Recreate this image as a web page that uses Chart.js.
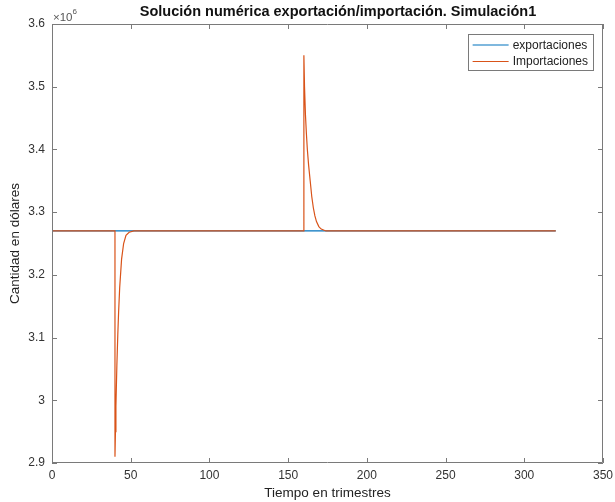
<!DOCTYPE html>
<html>
<head>
<meta charset="utf-8">
<script src="https://cdn.jsdelivr.net/npm/chart.js@4/dist/chart.umd.min.js"></script>
<style>
  html, body { margin: 0; padding: 0; background: #fff; }
  #wrap { width: 615px; height: 502px; }
</style>
</head>
<body>
<div id="wrap"><canvas id="grafica"></canvas></div>
<script>
// Datos (dólares)
const tExport = [0, 320];
const exportaciones = [3270000, 3270000];

const tImport = [0, 40, 40, 40.3, 40.6, 41.2, 41.8, 42.3, 43, 44.2, 45.5, 47, 49, 52,
  160, 160, 160.4, 161, 161.6, 162.2, 163, 164, 165, 166, 167, 168, 169.5, 171, 174, 320];
const importaciones = [3270000, 3270000, 2910000, 2950000, 2990000, 3055000, 3105000, 3140000,
  3180000, 3225000, 3250000, 3263000, 3268000, 3270000,
  3270000, 3550000, 3500000, 3455000, 3425000, 3400000, 3375000, 3350000, 3325000,
  3307000, 3294000, 3285000, 3277000, 3273000, 3270000, 3270000];

const xTicks = [0, 50, 100, 150, 200, 250, 300, 350];
const yTicks = [2900000, 3000000, 3100000, 3200000, 3300000, 3400000, 3500000, 3600000];

const titulo = "Solución numérica exportación/importación. Simulación1";
const FONT = "'Liberation Sans', Arial, Helvetica, sans-serif";

const toPoints = (xs, ys) => xs.map((x, i) => ({ x: x, y: ys[i] }));

// Caja, marcas hacia dentro, leyenda y multiplicador al estilo MATLAB
const estiloMatlab = {
  id: "estiloMatlab",
  afterDatasetsDraw(chart) {
    const { ctx, chartArea: a, scales } = chart;
    const x = scales.x, y = scales.y;
    ctx.save();
    ctx.strokeStyle = "#7a7a7a";
    ctx.lineWidth = 1;
    ctx.beginPath();
    ctx.rect(Math.round(a.left) + 0.5, Math.round(a.top) + 0.5,
      Math.round(a.width) - 1, Math.round(a.height) - 1);
    x.ticks.forEach((t) => {
      const px = Math.round(x.getPixelForValue(t.value)) + 0.5;
      ctx.moveTo(px, a.bottom); ctx.lineTo(px, a.bottom - 5);
      ctx.moveTo(px, a.top); ctx.lineTo(px, a.top + 5);
    });
    y.ticks.forEach((t) => {
      const py = Math.round(y.getPixelForValue(t.value)) + 0.5;
      ctx.moveTo(a.left, py); ctx.lineTo(a.left + 5, py);
      ctx.moveTo(a.right, py); ctx.lineTo(a.right - 5, py);
    });
    ctx.stroke();

    // multiplicador ×10^6
    ctx.fillStyle = "#555";
    ctx.textBaseline = "middle";
    ctx.textAlign = "left";
    ctx.font = "11.5px " + FONT;
    ctx.fillText("×10", a.left + 1, a.top - 6);
    const w = ctx.measureText("×10").width;
    ctx.font = "8px " + FONT;
    ctx.fillText("6", a.left + 1 + w, a.top - 12);

    // título
    ctx.fillStyle = "#111";
    ctx.textAlign = "center";
    ctx.font = "bold 14.5px " + FONT;
    ctx.fillText(titulo, 338, 12);

    // leyenda
    ctx.font = "12px " + FONT;
    const items = chart.data.datasets;
    const textW = Math.max(...items.map((d) => ctx.measureText(d.label).width));
    const bw = 5 + 36 + 4 + textW + 5;
    const bh = 36;
    const bx = a.right - 10 - bw;
    const by = a.top + 10;
    ctx.fillStyle = "#fff";
    ctx.fillRect(bx, by, bw, bh);
    ctx.strokeStyle = "#7a7a7a";
    ctx.strokeRect(Math.round(bx) + 0.5, by + 0.5, Math.round(bw), bh);
    ctx.textAlign = "left";
    items.forEach((d, i) => {
      const ly = by + 11 + i * 16.5;
      ctx.strokeStyle = d.borderColor;
      ctx.lineWidth = 1.2;
      ctx.beginPath();
      ctx.moveTo(bx + 5, ly); ctx.lineTo(bx + 41, ly);
      ctx.stroke();
      ctx.fillStyle = "#222";
      ctx.fillText(d.label, bx + 45, ly + 0.5);
    });
    ctx.restore();
  }
};

new Chart(document.getElementById("grafica"), {
  type: "line",
  data: {
    datasets: [
      {
        label: "exportaciones",
        data: toPoints(tExport, exportaciones),
        borderColor: "#0072BD",
        borderWidth: 1.2,
        pointRadius: 0,
        tension: 0,
        order: 1
      },
      {
        label: "Importaciones",
        data: toPoints(tImport, importaciones),
        borderColor: "#D95319",
        borderWidth: 1.2,
        pointRadius: 0,
        tension: 0,
        order: 0
      }
    ]
  },
  options: {
    responsive: true,
    maintainAspectRatio: false,
    animation: false,
    layout: { padding: { left: 0, right: 12, top: 24, bottom: 0 } },
    plugins: {
      legend: { display: false },
      title: { display: false },
      tooltip: { enabled: false }
    },
    scales: {
      x: {
        type: "linear",
        min: 0,
        max: 350,
        grid: { display: false, drawTicks: false },
        border: { display: false },
        afterBuildTicks: (s) => { s.ticks = xTicks.map((v) => ({ value: v })); },
        afterFit: (s) => { s.height = 39; s.paddingLeft = 0; s.paddingRight = 0; },
        ticks: {
          padding: 5,
          color: "#333",
          font: { family: FONT, size: 12 },
          maxRotation: 0
        },
        title: {
          display: true,
          text: "Tiempo en trimestres",
          color: "#222",
          font: { family: FONT, size: 13.5 },
          padding: { top: 0, bottom: 1 }
        }
      },
      y: {
        min: 2900000,
        max: 3600000,
        grid: { display: false, drawTicks: false },
        border: { display: false },
        afterBuildTicks: (s) => { s.ticks = yTicks.map((v) => ({ value: v })); },
        afterFit: (s) => { s.width = 52; s.paddingTop = 0; s.paddingBottom = 0; },
        ticks: {
          padding: 7,
          color: "#333",
          font: { family: FONT, size: 12 },
          callback: (v) => String(Math.round(v / 100000) / 10)
        },
        title: {
          display: true,
          text: "Cantidad en dólares",
          color: "#222",
          font: { family: FONT, size: 13.5 },
          padding: { top: 7, bottom: 0 }
        }
      }
    }
  },
  plugins: [estiloMatlab]
});
</script>
</body>
</html>
